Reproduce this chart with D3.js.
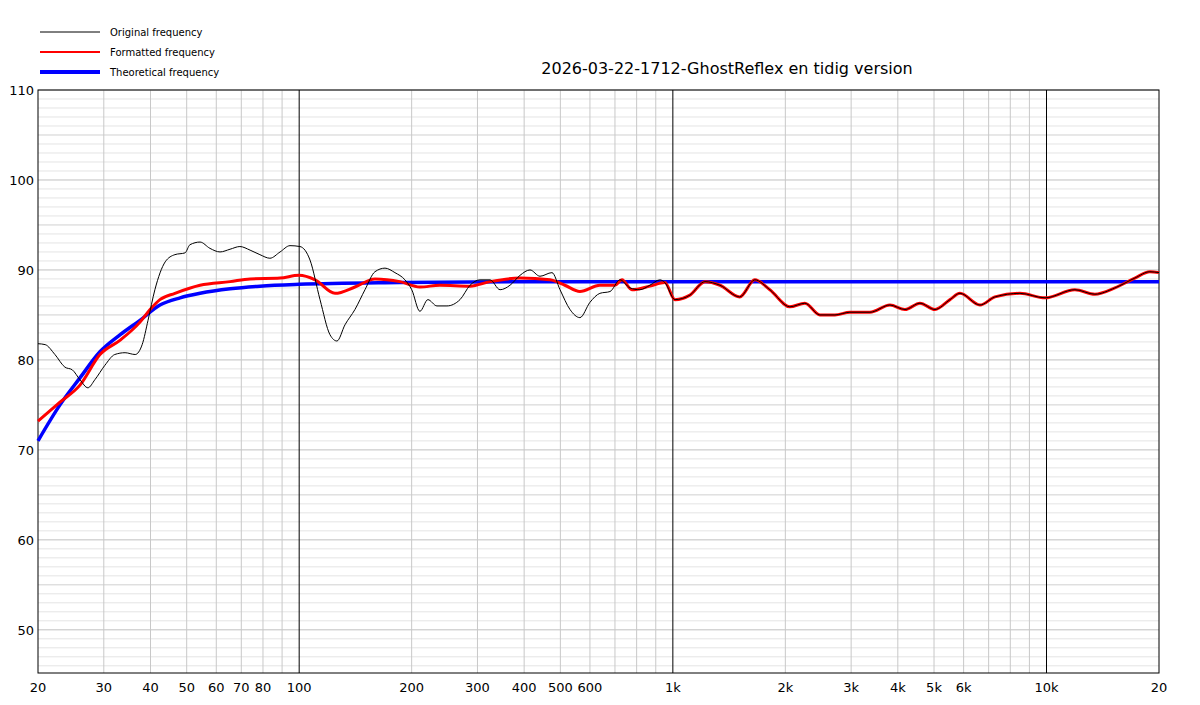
<!DOCTYPE html>
<html><head><meta charset="utf-8">
<script src="https://cdn.jsdelivr.net/npm/d3@7/dist/d3.min.js"></script>
<style>body{margin:0;background:#fff}text{font-family:"DejaVu Sans",sans-serif}</style>
</head><body><svg id="c" width="1200" height="705"></svg>
<script>
const title = "2026-03-22-1712-GhostReflex en tidig version";
const legendLabels = ["Original frequency","Formatted frequency","Theoretical frequency"];
const xTickVals = [20,30,40,50,60,70,80,100,200,300,400,500,600,1000,2000,3000,4000,5000,6000,10000,20000];
const xTickLabels = ["20","30","40","50","60","70","80","100","200","300","400","500","600","1k","2k","3k","4k","5k","6k","10k","20"];
const yTickVals = [50,60,70,80,90,100,110];

const origFreq = [20,20.9,22.2,23.6,24.7,25.9,27.2,28.4,30.2,32.1,34.2,36.4,38,39.4,41.1,43.8,46.5,49.5,51,54.3,57.7,61.4,65.3,69.4,73.9,78.5,83.5,88.9,94.5,100.5,106.9,113.7,120.9,126.2,132.6,141,150,159.5,169.7,180.4,191.9,200.1,210.4,221,233.7,248.6,269.4,286.6,304.8,324.2,344.8,366.7,390,414.7,441,474.8,499,530.6,564,600,638,679,722,768,816,868,923];
const origDb = [81.8,81.7,80.6,79.2,78.9,77.8,76.9,77.8,79.4,80.6,80.8,80.6,81.7,84.4,87.8,90.9,91.7,91.9,92.8,93.1,92.4,92.0,92.3,92.6,92.2,91.7,91.3,92.0,92.7,92.6,91.1,86.7,82.8,82.1,83.9,85.6,87.8,89.8,90.2,89.7,88.9,87.8,85.4,86.7,86.0,86.0,86.7,88.3,88.9,88.9,87.8,88.3,89.4,90.0,89.3,89.7,87.8,85.6,84.7,86.4,87.4,87.6,88.9,88.0,87.8,88.3,88.9];
const fmtFreq = [20,22.9,25.9,29.3,33.2,37.5,39.9,42.4,46.5,54.3,65.3,73.9,88.9,99.9,110.3,124.7,141,159.5,186,210.4,238,286.6,324.2,390,469,514,564,638,700,731,777,868,952,1013,1111,1219,1337,1510,1657,1818,2057,2256,2475,2715,2978,3369,3811,4180,4585,5030,5516,5866,6636,7277,8490,9910,11910,13470,15240,17240,18910,20000];
const fmtDb = [73.2,75.3,77.2,80.6,82.2,84.2,85.6,86.7,87.4,88.3,88.7,89.0,89.1,89.4,88.9,87.4,88.1,89.0,88.7,88.1,88.3,88.2,88.7,89.1,88.9,88.3,87.6,88.3,88.3,88.9,87.8,88.2,88.6,86.7,87.2,88.7,88.3,87.0,88.9,87.8,85.9,86.3,85.0,85.0,85.3,85.3,86.1,85.6,86.3,85.6,86.7,87.4,86.1,87.0,87.4,86.9,87.8,87.3,88.0,89.1,89.8,89.7];
const theoFreq = [20,22.9,25.9,29.3,33.2,37.5,42.4,48,54.3,65.3,78.5,99.9,186,400,20000];
const theoDb = [71,75,78,80.9,82.8,84.4,86.1,86.9,87.4,87.9,88.2,88.4,88.6,88.7,88.7];

const svg = d3.select("#c");
const L=38,R=1159,T=90,B=673;
const x = d3.scaleLog().domain([20,20000]).range([L,R]);
const y = d3.scaleLinear().domain([45.2,110]).range([B,T]);

// grid
const g = svg.append("g");
for(let v=46; v<=110; v++){
  g.append("line").attr("x1",L).attr("x2",R).attr("y1",y(v)).attr("y2",y(v))
   .attr("stroke", v%10===0 ? "#c0c0c0" : (v%5===0 ? "#d0d0d0" : "#e4e4e4")).attr("stroke-width",1);
}
const minor=[];
[10,100,1000,10000].forEach(d=>{for(let k=1;k<10;k++){const f=d*k;if(f>20&&f<20000)minor.push(f);}});
minor.forEach(f=>{
  const isDec = [100,1000,10000].includes(f);
  g.append("line").attr("x1",x(f)).attr("x2",x(f)).attr("y1",T).attr("y2",B)
   .attr("stroke", isDec?"#000":"#c8c8c8").attr("stroke-width",1);
});
svg.append("rect").attr("x",L).attr("y",T).attr("width",R-L).attr("height",B-T)
  .attr("fill","none").attr("stroke","#000").attr("stroke-width",1);

// axes labels
svg.append("g").selectAll("text").data(xTickVals).join("text")
  .attr("x",d=>x(d)).attr("y",692).attr("text-anchor","middle").attr("font-size",13).text((d,i)=>xTickLabels[i]);
svg.append("g").selectAll("text").data(yTickVals).join("text")
  .attr("x",34).attr("y",d=>y(d)+5).attr("text-anchor","end").attr("font-size",13).text(d=>d);

// lines
const line = d3.line().x(d=>x(d[0])).y(d=>y(d[1])).curve(d3.curveMonotoneX);
const zip=(a,b)=>a.map((v,i)=>[v,b[i]]);
const origAll = zip(origFreq,origDb).concat(zip(fmtFreq,fmtDb).filter(d=>d[0]>950));
const plot = svg.append("g");
plot.append("path").attr("d",line(zip(theoFreq,theoDb))).attr("fill","none").attr("stroke","#0000ff").attr("stroke-width",3.5);
plot.append("path").attr("d",line(zip(fmtFreq,fmtDb))).attr("fill","none").attr("stroke","#ff0000").attr("stroke-width",3);
plot.append("path").attr("d",line(origAll)).attr("fill","none").attr("stroke","#000").attr("stroke-width",1);

// title
svg.append("text").attr("x",727).attr("y",74).attr("text-anchor","middle").attr("font-size",16).text(title);

// legend
const lc=["#000","#ff0000","#0000ff"], lw=[1,2,4];
legendLabels.forEach((t,i)=>{
  const yy=32+i*20;
  svg.append("line").attr("x1",40).attr("x2",100).attr("y1",yy).attr("y2",yy).attr("stroke",lc[i]).attr("stroke-width",lw[i]);
  svg.append("text").attr("x",110).attr("y",yy+3.5).attr("font-size",10).text(t);
});
</script></body></html>
